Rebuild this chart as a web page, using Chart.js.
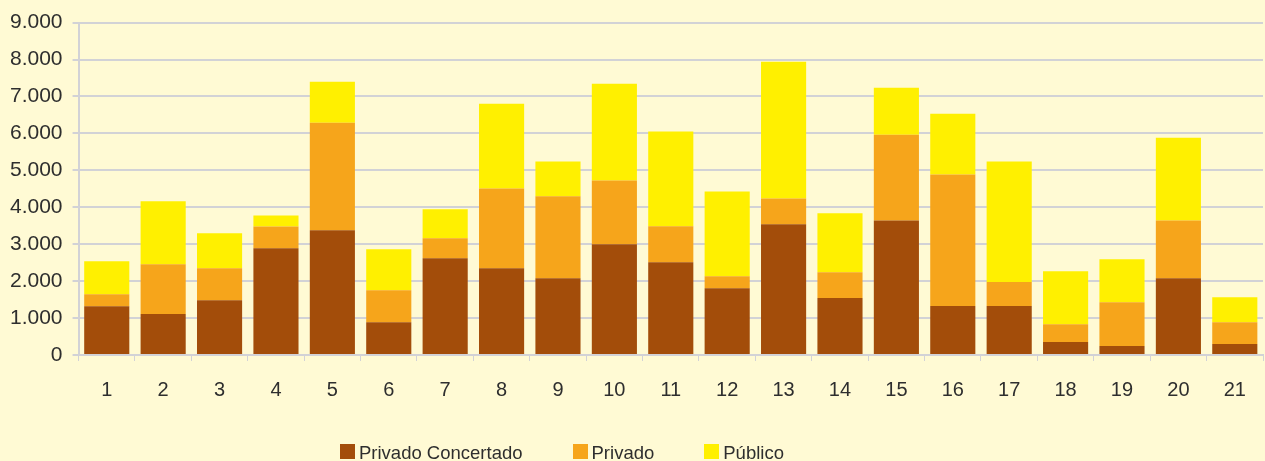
<!DOCTYPE html>
<html>
<head>
<meta charset="utf-8">
<script src="https://cdn.jsdelivr.net/npm/chart.js@4"></script>
<style>
    html, body { margin: 0; padding: 0; background: #FFFAD4; overflow: hidden; }
    #wrap { position: relative; width: 1265px; height: 461px; overflow: hidden; }
    #box { position: absolute; left: 0; top: 0; width: 1265px; height: 461px; }
    #legend { position: absolute; left: 340px; top: 443px; display: flex; font-family: "Liberation Sans", Arial, sans-serif; font-size: 18.5px; line-height: 19px; color: #2e2e2e; white-space: nowrap; }
    #legend .item { display: flex; align-items: flex-start; margin-right: 50px; }
    #legend .sw { width: 15px; height: 15px; margin-top: 1px; margin-right: 4px; }
</style>
</head>
<body>
<div id="wrap">
    <div id="box"><canvas id="stackChart"></canvas></div>
    <div id="legend"></div>
</div>
<script>
const categories = ["1","2","3","4","5","6","7","8","9","10","11","12","13","14","15","16","17","18","19","20","21"];
const privadoConcertado = [1320, 1110, 1485, 2890, 3375, 890, 2620, 2350, 2080, 3000, 2510, 1810, 3540, 1540, 3645, 1325, 1325, 350, 245, 2080, 300];
const privado = [325, 1350, 865, 590, 2915, 865, 540, 2160, 2215, 1725, 975, 325, 700, 700, 2320, 3565, 650, 485, 1185, 1565, 590];
const publico = [890, 1700, 945, 300, 1110, 1105, 785, 2295, 945, 2620, 2565, 2295, 3700, 1595, 1270, 1645, 3265, 1430, 1160, 2240, 675];
const seriesNames = ["Privado Concertado", "Privado", "Público"];
const seriesColors = ["#A34D0A", "#F6A51B", "#FFF000"];

document.addEventListener("DOMContentLoaded", () => {
    const ctx = document.getElementById("stackChart").getContext("2d");
    const fmt = v => String(v).replace(/\B(?=(\d{3})+(?!\d))/g, ".");
    const gridColor = "#D2D2D6";

    const chart = new Chart(ctx, {
        type: "bar",
        data: {
            labels: categories,
            datasets: [
                { label: seriesNames[0], data: privadoConcertado, backgroundColor: seriesColors[0] },
                { label: seriesNames[1], data: privado, backgroundColor: seriesColors[1] },
                { label: seriesNames[2], data: publico, backgroundColor: seriesColors[2] }
            ]
        },
        options: {
            responsive: true,
            maintainAspectRatio: false,
            animation: false,
            barPercentage: 0.8,
            categoryPercentage: 1,
            layout: { padding: { left: 0, right: 2, top: 10, bottom: 42 } },
            plugins: {
                tooltip: { enabled: false },
                legend: { display: false }
            },
            scales: {
                x: {
                    stacked: true,
                    grid: { offset: true, drawOnChartArea: false, color: gridColor, tickLength: 6 },
                    border: { color: gridColor, width: 2 },
                    ticks: { color: "#2e2e2e", padding: 17, font: { family: "Liberation Sans, Arial", size: 20 } }
                },
                y: {
                    stacked: true,
                    min: 0,
                    max: 9000,
                    grid: { color: gridColor, lineWidth: 2, tickLength: 6 },
                    border: { color: gridColor, width: 2 },
                    ticks: {
                        stepSize: 1000,
                        color: "#2e2e2e",
                        padding: 10,
                        font: { family: "Liberation Sans, Arial", size: 21 },
                        callback: v => fmt(v)
                    }
                }
            }
        }
    });

    // HTML legend built from the chart's own legend items
    const legendEl = document.getElementById("legend");
    chart.options.plugins.legend.labels.generateLabels(chart).forEach(item => {
        const el = document.createElement("div");
        el.className = "item";
        const sw = document.createElement("span");
        sw.className = "sw";
        sw.style.background = item.fillStyle;
        const txt = document.createElement("span");
        txt.textContent = item.text;
        el.appendChild(sw);
        el.appendChild(txt);
        legendEl.appendChild(el);
    });
});
</script>
</body>
</html>
